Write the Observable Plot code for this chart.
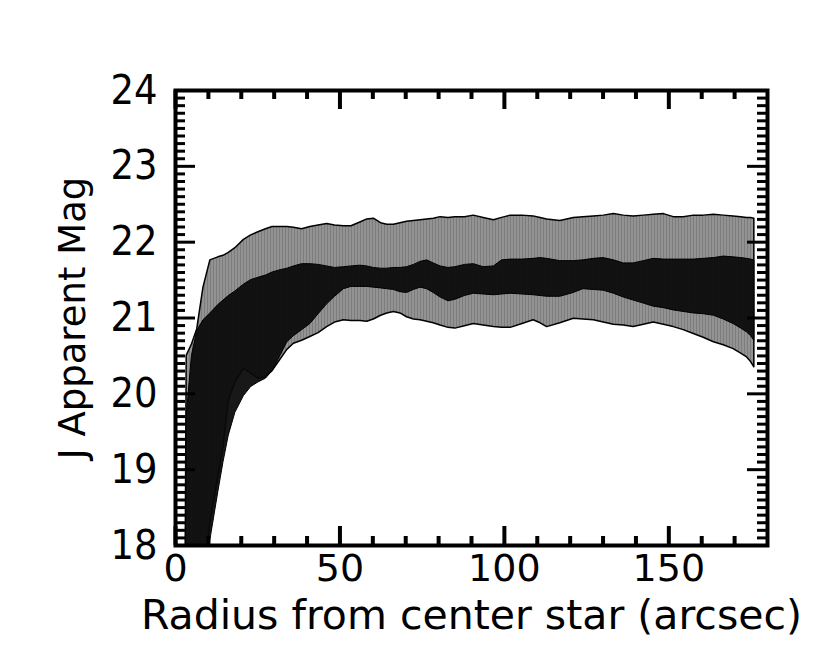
<!DOCTYPE html>
<html>
<head>
<meta charset="utf-8">
<script src="https://cdn.jsdelivr.net/npm/d3@7"></script>
<script src="https://cdn.jsdelivr.net/npm/@observablehq/plot@0.6"></script>
<style>
  html, body { margin: 0; padding: 0; background: white; }
</style>
</head>
<body>
<div id="chart"></div>
<script>
// ---- data ----
const radius = [3.0, 3.4, 5, 6.6, 8.5, 10.6, 13, 14.6, 16.2, 18.2, 20.8, 23, 25.2, 27.5, 29.5, 31.9, 34, 36, 38.5, 41, 43.5, 46.1, 48.5, 51.2, 53.5, 56.2, 58.3, 60.3, 62.5, 64.4, 66.4, 68.4, 70.4, 72.5, 74.5, 76.5, 78.5, 80.6, 83, 85.1, 88, 90.7, 93.7, 96.8, 99.3, 101.9, 105.5, 108.9, 111, 113, 117, 121.1, 124, 127.2, 130.2, 133.3, 136.3, 139.3, 142.4, 145.4, 148.5, 151.5, 154.5, 157.6, 160.6, 163.7, 166.7, 169.7, 172, 173.8, 175, 176];

const grayHigh = [17.0, 20.5, 20.65, 20.85, 21.4, 21.76, 21.8, 21.82, 21.86, 21.92, 22.03, 22.09, 22.13, 22.17, 22.2, 22.2, 22.2, 22.19, 22.17, 22.2, 22.22, 22.24, 22.22, 22.21, 22.21, 22.26, 22.3, 22.31, 22.25, 22.23, 22.23, 22.25, 22.27, 22.28, 22.29, 22.3, 22.31, 22.33, 22.32, 22.33, 22.33, 22.35, 22.32, 22.29, 22.32, 22.35, 22.35, 22.34, 22.32, 22.3, 22.28, 22.32, 22.33, 22.34, 22.35, 22.37, 22.35, 22.34, 22.35, 22.36, 22.37, 22.33, 22.33, 22.35, 22.35, 22.36, 22.35, 22.34, 22.33, 22.32, 22.32, 22.31];

const grayLow = [17, 17, 17, 17, 17.5, 18.3, 18.9, 19.3, 19.91, 20.15, 20.33, 20.27, 20.2, 20.22, 20.3, 20.45, 20.58, 20.66, 20.7, 20.75, 20.8, 20.88, 20.94, 20.97, 20.96, 20.96, 20.95, 20.98, 21.03, 21.06, 21.08, 21.06, 21.01, 20.98, 20.97, 20.95, 20.93, 20.9, 20.87, 20.86, 20.89, 20.92, 20.9, 20.88, 20.87, 20.87, 20.92, 20.97, 20.93, 20.88, 20.93, 20.99, 20.98, 20.97, 20.94, 20.91, 20.9, 20.88, 20.91, 20.94, 20.91, 20.88, 20.84, 20.79, 20.74, 20.68, 20.64, 20.59, 20.53, 20.48, 20.42, 20.35];

const blackHigh = [17.0, 19.7, 20.5, 20.83, 20.97, 21.06, 21.17, 21.23, 21.29, 21.35, 21.44, 21.5, 21.53, 21.56, 21.6, 21.63, 21.65, 21.68, 21.71, 21.71, 21.7, 21.68, 21.66, 21.67, 21.68, 21.69, 21.68, 21.66, 21.65, 21.65, 21.66, 21.66, 21.67, 21.7, 21.74, 21.76, 21.72, 21.68, 21.66, 21.67, 21.7, 21.71, 21.67, 21.68, 21.76, 21.77, 21.77, 21.78, 21.79, 21.78, 21.75, 21.75, 21.76, 21.78, 21.79, 21.76, 21.72, 21.72, 21.75, 21.78, 21.77, 21.77, 21.77, 21.77, 21.78, 21.79, 21.81, 21.8, 21.79, 21.78, 21.77, 21.76];

const blackLow = [17, 17, 17, 17, 17.2, 18.07, 18.7, 19.1, 19.45, 19.75, 19.97, 20.09, 20.15, 20.2, 20.3, 20.5, 20.68, 20.76, 20.84, 20.92, 21.05, 21.18, 21.28, 21.38, 21.41, 21.41, 21.41, 21.4, 21.39, 21.38, 21.37, 21.34, 21.33, 21.37, 21.4, 21.38, 21.33, 21.27, 21.22, 21.24, 21.29, 21.32, 21.31, 21.3, 21.31, 21.32, 21.31, 21.3, 21.29, 21.28, 21.28, 21.33, 21.38, 21.37, 21.36, 21.32, 21.27, 21.23, 21.19, 21.15, 21.13, 21.1, 21.08, 21.06, 21.05, 21.03, 20.98, 20.92, 20.86, 20.81, 20.76, 20.7];

const xTickLabels = [0, 50, 100, 150];
const yTickLabels = [18, 19, 20, 21, 22, 23, 24];
const xMinorTicks = [10, 20, 30, 40, 60, 70, 80, 90, 110, 120, 130, 140, 160, 170];
const xLabel = "Radius from center star (arcsec)";
const yLabel = "J Apparent Mag";

// ---- tables for the library ----
const grayBand = radius.map((r, i) => ({r, lo: grayLow[i], hi: grayHigh[i]}));
const blackBand = radius.map((r, i) => ({r, lo: blackLow[i], hi: blackHigh[i]}));
const yMinorTicks = d3.range(180, 241).map(v => v / 10).filter(v => Math.abs(v - Math.round(v)) > 1e-6);

const W = 830, H = 664, mL = 175, mR = 63, mT = 90, mB = 119;
const fw = W - mL - mR, fh = H - mT - mB;

const chart = Plot.plot({
  width: W, height: H,
  marginLeft: mL, marginRight: mR, marginTop: mT, marginBottom: mB,
  x: {domain: [0, 180]},
  y: {domain: [18, 24]},
  style: {fontFamily: "DejaVu Sans, sans-serif", fontSize: "37px", background: "white", color: "black"},
  marks: [
    Plot.areaY(grayBand, {x: "r", y1: "lo", y2: "hi", fill: "#8b8b8b", stroke: "black", strokeWidth: 1.5, clip: true, className: "grayband"}),
    Plot.areaY(blackBand, {x: "r", y1: "lo", y2: "hi", fill: "#0a0a0a", fillOpacity: 0.94, stroke: "black", strokeWidth: 1, clip: true}),
    // x ticks (inward), bottom & top
    Plot.tickX(xMinorTicks, {x: d => d, insetTop: fh - 9, stroke: "black", strokeWidth: 4}),
    Plot.tickX(xTickLabels, {x: d => d, insetTop: fh - 19, stroke: "black", strokeWidth: 4}),
    Plot.tickX(xMinorTicks, {x: d => d, insetBottom: fh - 9, stroke: "black", strokeWidth: 4}),
    Plot.tickX(xTickLabels, {x: d => d, insetBottom: fh - 19, stroke: "black", strokeWidth: 4}),
    // y ticks (inward), left & right
    Plot.tickY(yMinorTicks, {y: d => d, insetRight: fw - 10, stroke: "black", strokeWidth: 3}),
    Plot.tickY(yTickLabels, {y: d => d, insetRight: fw - 20, stroke: "black", strokeWidth: 3}),
    Plot.tickY(yMinorTicks, {y: d => d, insetLeft: fw - 10, stroke: "black", strokeWidth: 3}),
    Plot.tickY(yTickLabels, {y: d => d, insetLeft: fw - 20, stroke: "black", strokeWidth: 3}),
    Plot.frame({stroke: "black", strokeWidth: 4}),
    Plot.axisX(xTickLabels, {tickSize: 0, tickPadding: 9, fontSize: 38, label: null, tickFormat: d => String(d)}),
    Plot.axisY(yTickLabels, {tickSize: 0, tickPadding: 18, fontSize: 37, label: null, tickFormat: d => String(d), className: "stretch"}),
    Plot.text([xLabel], {text: d => d, frameAnchor: "bottom", dy: 83, lineAnchor: "bottom", textAnchor: "middle", fontSize: 41}),
    Plot.text([yLabel], {text: d => d, frameAnchor: "left", dx: -91, rotate: -90, lineAnchor: "bottom", textAnchor: "middle", fontSize: 37})
  ]
});

// vertical hatch texture of the grey band (as in the reference's fill_between)
const svg = d3.select(chart);
const defs = svg.insert("defs", ":first-child");
const pat = defs.append("pattern").attr("id", "grayHatch").attr("patternUnits", "userSpaceOnUse")
  .attr("width", 3).attr("height", 10);
pat.append("rect").attr("width", 3).attr("height", 10).attr("fill", "#939393");
pat.append("rect").attr("width", 1).attr("height", 10).attr("fill", "#7c7c7c");
svg.selectAll(".grayband path").attr("fill", "url(#grayHatch)");

// the reference's y tick glyphs are slightly taller than wide
svg.selectAll(".stretch text").each(function () {
  const t = this.getAttribute("transform") || "";
  this.setAttribute("transform", t + " scale(1,1.1)");
});
document.getElementById("chart").appendChild(chart);
</script>
</body>
</html>
